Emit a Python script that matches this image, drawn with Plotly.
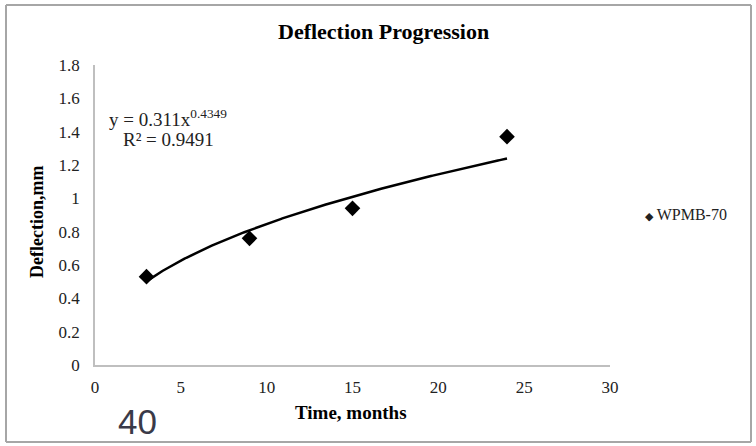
import numpy as np
import plotly.graph_objects as go

# Data
time_months = [3, 9, 15, 24]
deflection_mm = [0.53, 0.76, 0.94, 1.37]
series_name = "WPMB-70"
x_ticks = [0, 5, 10, 15, 20, 25, 30]
y_ticks = [0, 0.2, 0.4, 0.6, 0.8, 1.0, 1.2, 1.4, 1.6, 1.8]
y_tick_labels = ["0", "0.2", "0.4", "0.6", "0.8", "1", "1.2", "1.4", "1.6", "1.8"]
trend_a = 0.311
trend_b = 0.4349
trend_r2 = 0.9491

# Power trendline from the equation shown in the chart
xt = np.linspace(min(time_months), max(time_months), 200)
yt = trend_a * xt ** trend_b

fig = go.Figure()
fig.add_trace(go.Scatter(
    x=xt, y=yt, mode="lines",
    line=dict(color="black", width=2.5),
    showlegend=False, hoverinfo="skip"))
fig.add_trace(go.Scatter(
    x=time_months, y=deflection_mm, mode="markers", name=series_name,
    marker=dict(symbol="diamond", size=12, color="black"),
    showlegend=False))

serif = "Liberation Serif, Times New Roman, serif"

W, H = 756, 446
L, R, T, B = 95, 146, 65, 81
pw, ph = W - L - R, H - T - B

def px_x(p):
    return (p - L) / pw

def px_y(p):
    return (H - B - p) / ph

frame_color = "#a6a6a6"
fx0, fx1, fy0, fy1 = px_x(6), px_x(751), px_y(442), px_y(5)
frame = [
    dict(type="line", xref="paper", yref="paper", x0=fx0, x1=fx1, y0=fy1, y1=fy1,
         line=dict(color=frame_color, width=2)),
    dict(type="line", xref="paper", yref="paper", x0=fx0, x1=fx1, y0=fy0, y1=fy0,
         line=dict(color=frame_color, width=2)),
    dict(type="line", xref="paper", yref="paper", x0=fx0, x1=fx0, y0=fy0, y1=fy1,
         line=dict(color=frame_color, width=2)),
    dict(type="line", xref="paper", yref="paper", x0=fx1, x1=fx1, y0=fy0, y1=fy1,
         line=dict(color=frame_color, width=2)),
]

fig.update_layout(
    width=W, height=H,
    margin=dict(l=L, r=R, t=T, b=B),
    paper_bgcolor="white", plot_bgcolor="white",
    font=dict(family=serif, size=16, color="#222"),
    showlegend=False,
    xaxis=dict(range=[0, 30], tickvals=x_ticks, showgrid=False, zeroline=False,
               showline=True, linecolor="#bfbfbf", linewidth=1.5,
               ticks="", ticklabelstandoff=6, automargin=False,
               tickfont=dict(family=serif, size=17, color="#222")),
    yaxis=dict(range=[0, 1.8], tickvals=y_ticks, ticktext=y_tick_labels,
               showgrid=False, zeroline=False,
               showline=True, linecolor="#bfbfbf", linewidth=1.5,
               ticks="", ticklabelstandoff=10, automargin=False,
               tickfont=dict(family=serif, size=17, color="#222")),
    shapes=frame,
    annotations=[
        dict(xref="paper", yref="paper", x=px_x(383), y=px_y(32),
             text="<b>Deflection Progression</b>", showarrow=False,
             xanchor="center", yanchor="middle",
             font=dict(family=serif, size=22, color="black")),
        dict(xref="paper", yref="paper", x=px_x(351), y=px_y(412),
             text="<b>Time, months</b>", showarrow=False,
             xanchor="center", yanchor="middle",
             font=dict(family=serif, size=19, color="black")),
        dict(xref="paper", yref="paper", x=px_x(37), y=px_y(222),
             text="<b>Deflection,mm</b>", showarrow=False, textangle=-90,
             xanchor="center", yanchor="middle",
             font=dict(family=serif, size=18, color="black")),
        dict(xref="paper", yref="paper", x=px_x(168), y=px_y(118),
             text=f"y = {trend_a}x<sup>{trend_b}</sup>", showarrow=False,
             xanchor="center", yanchor="middle",
             font=dict(family=serif, size=19, color="#222")),
        dict(xref="paper", yref="paper", x=px_x(168), y=px_y(139),
             text=f"R² = {trend_r2}", showarrow=False,
             xanchor="center", yanchor="middle",
             font=dict(family=serif, size=19, color="#222")),
        dict(xref="paper", yref="paper", x=px_x(643), y=px_y(214),
             text=f"<span style='font-size:11px'>◆</span> {series_name}",
             showarrow=False, xanchor="left", yanchor="middle",
             font=dict(family=serif, size=16, color="#222")),
        dict(xref="paper", yref="paper", x=px_x(137), y=px_y(421),
             text="40", showarrow=False, xanchor="center", yanchor="middle",
             font=dict(family="Liberation Sans, Arial, sans-serif", size=35,
                       color="#3a3a48")),
    ],
)

fig.write_html("out.html",
               config={"displayModeBar": False},
               post_script="document.body.style.margin='0';document.body.style.padding='0';")
